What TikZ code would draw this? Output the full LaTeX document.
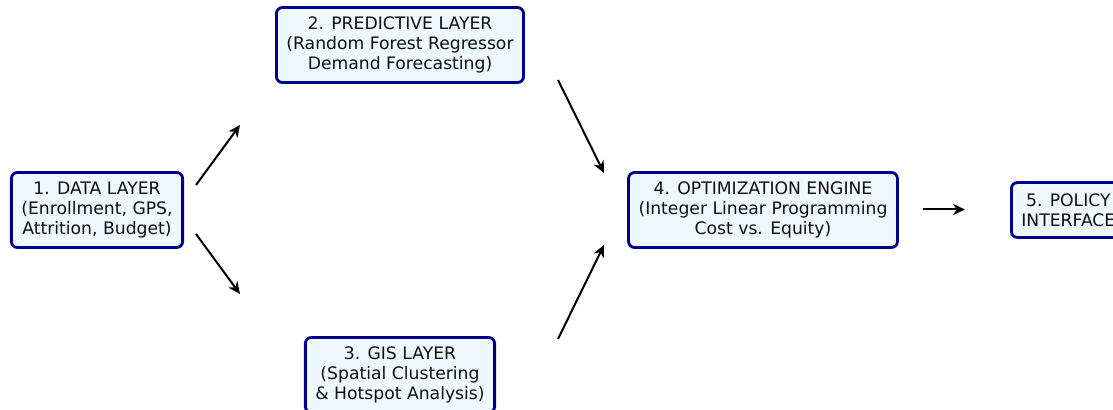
\documentclass[tikz,border=0pt]{standalone}
\usepackage{fontspec}
\setmainfont{DejaVu Sans}
\usetikzlibrary{arrows.meta}
\definecolor{clrNavy}{RGB}{0,0,139}
\definecolor{bgAlice}{RGB}{240,248,255}
\definecolor{clrTxt}{RGB}{15,15,15}
\tikzset{
  layer/.style={rectangle,rounded corners=3pt,draw=clrNavy,fill=bgAlice,line width=1.4pt,
    font=\fontsize{8.6}{10.2}\selectfont,text=clrTxt,align=center,
    inner xsep=5pt,inner ysep=3pt,minimum height=37.5pt},
  flow/.style={-{Stealth[length=6pt,width=5.5pt]},line width=1pt,black}
}
\begin{document}
\begin{tikzpicture}[x=0.5pt,y=-0.5pt]
  \useasboundingbox (0,0) rectangle (1113,410);
  \clip (0,0) rectangle (1113,410);
  \node[layer] (data) at (97,210)
    {1. DATA LAYER\\(Enrollment, GPS,\\Attrition, Budget)};
  \node[layer] (pred) at (400,45)
    {2. PREDICTIVE LAYER\\(Random Forest Regressor\\Demand Forecasting)};
  \node[layer] (gis) at (400,375)
    {3. GIS LAYER\\(Spatial Clustering\\\& Hotspot Analysis)};
  \node[layer] (opt) at (763,210)
    {4. OPTIMIZATION ENGINE\\(Integer Linear Programming\\Cost vs. Equity)};
  \node[layer,minimum height=27.5pt,anchor=west] (policy) at (1010,210)
    {5. POLICY\\INTERFACE};
  \coordinate (dp1) at (196,185);
  \coordinate (dp2) at (240,125);
  \coordinate (dg1) at (196,234);
  \coordinate (dg2) at (240,294);
  \coordinate (po1) at (558,80);
  \coordinate (po2) at (604,173);
  \coordinate (go1) at (558,339);
  \coordinate (go2) at (604,245);
  \coordinate (op1) at (923,209.5);
  \coordinate (op2) at (965,209.5);
  \draw[flow] (dp1) -- (dp2);
  \draw[flow] (dg1) -- (dg2);
  \draw[flow] (po1) -- (po2);
  \draw[flow] (go1) -- (go2);
  \draw[flow] (op1) -- (op2);
\end{tikzpicture}
\end{document}
